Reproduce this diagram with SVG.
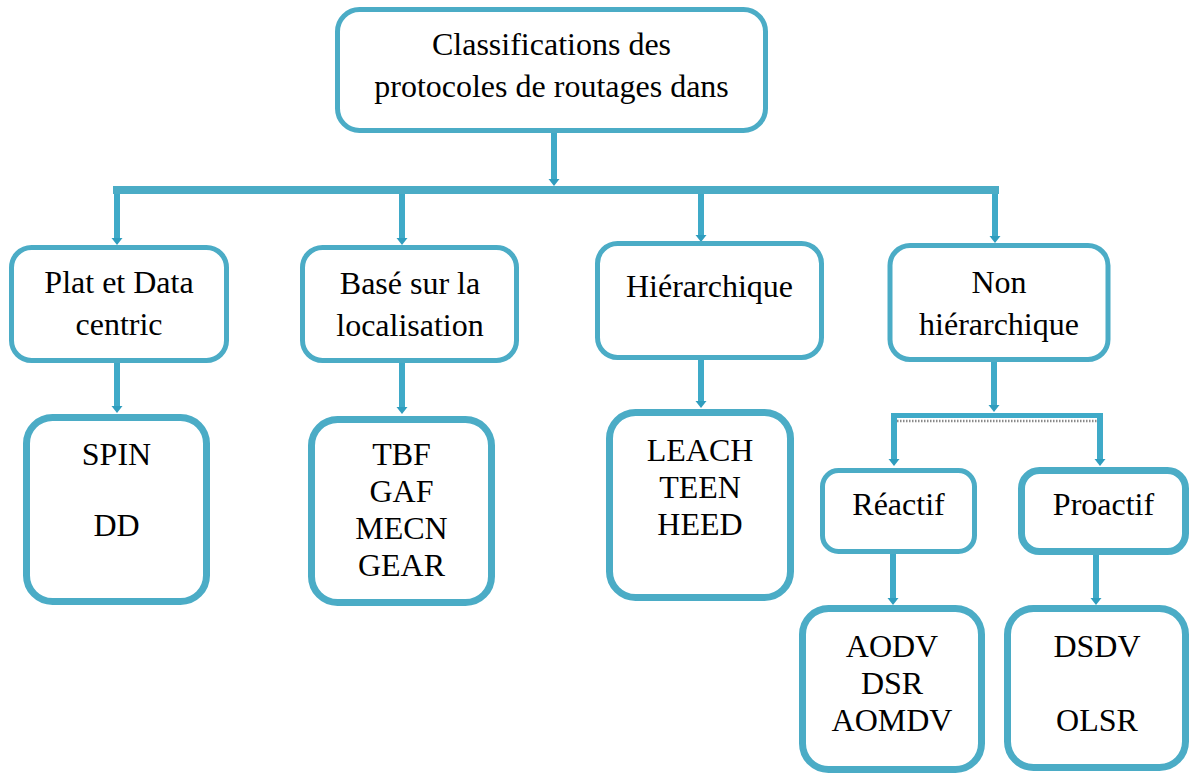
<svg xmlns="http://www.w3.org/2000/svg" width="1191" height="775" viewBox="0 0 1191 775">
<defs>
<marker id="ah" viewBox="0 -6 8 12" refX="2" refY="0" markerWidth="8" markerHeight="12" markerUnits="userSpaceOnUse" orient="auto">
<path d="M0,-5.5 L7,0 L0,5.5 z" fill="#2F9DBE"/>
</marker>
</defs>
<g id="connectors" fill="none">
<g stroke="#3FAAC8" stroke-width="6">
<line x1="554" y1="133" x2="554" y2="181" marker-end="url(#ah)"/>
<line x1="117" y1="186" x2="117" y2="240" marker-end="url(#ah)"/>
<line x1="402" y1="190" x2="402" y2="240" marker-end="url(#ah)"/>
<line x1="701" y1="190" x2="701" y2="237" marker-end="url(#ah)"/>
<line x1="995" y1="186" x2="995" y2="238" marker-end="url(#ah)"/>
<line x1="117" y1="363" x2="117" y2="408" marker-end="url(#ah)"/>
<line x1="402" y1="363" x2="402" y2="409" marker-end="url(#ah)"/>
<line x1="701" y1="359" x2="701" y2="403" marker-end="url(#ah)"/>
<line x1="994" y1="360" x2="994" y2="407" marker-end="url(#ah)"/>
<line x1="894" y1="413" x2="894" y2="461" marker-end="url(#ah)"/>
<line x1="1100" y1="413" x2="1100" y2="461" marker-end="url(#ah)"/>
<line x1="893" y1="553" x2="893" y2="600" marker-end="url(#ah)"/>
<line x1="1096" y1="554" x2="1096" y2="600" marker-end="url(#ah)"/>
</g>
<line x1="113" y1="190" x2="999" y2="190" stroke="#4BACC6" stroke-width="8"/>
<line x1="891" y1="415.5" x2="1103" y2="415.5" stroke="#3FAAC8" stroke-width="5"/>
<line x1="897" y1="421" x2="1097" y2="421" stroke="#8a8a8a" stroke-width="2.5" stroke-dasharray="1.5,1.5"/>
</g>
<g font-family="Liberation Serif" font-size="32" fill="#000000" text-anchor="middle">
<g stroke="#4BACC6" stroke-width="5">
<g id="root">
<rect fill="#ffffff" x="337.5" y="9.5" width="428" height="121" rx="22"/>
<text stroke="none" x="551.5" y="55">Classifications des</text>
<text stroke="none" x="551.5" y="97">protocoles de routages dans</text>
</g>
<g id="plat">
<rect fill="#ffffff" x="11.5" y="247.5" width="215" height="113" rx="20"/>
<text stroke="none" x="119" y="293">Plat et Data</text>
<text stroke="none" x="119" y="335">centric</text>
</g>
<g id="localisation">
<rect fill="#ffffff" x="302.5" y="247.5" width="214" height="113" rx="20"/>
<text stroke="none" x="410" y="294">Basé sur la</text>
<text stroke="none" x="410" y="336">localisation</text>
</g>
<g id="hierarchique">
<rect fill="#ffffff" x="597.5" y="243.5" width="224" height="114" rx="20"/>
<text stroke="none" x="709.5" y="297">Hiérarchique</text>
</g>
<g id="nonhierarchique">
<rect fill="#ffffff" x="890" y="245.5" width="218" height="114" rx="20"/>
<text stroke="none" x="999" y="293">Non</text>
<text stroke="none" x="999" y="335">hiérarchique</text>
</g>
<g id="reactif">
<rect fill="#ffffff" x="822.5" y="470.5" width="152" height="81" rx="16"/>
<text stroke="none" x="898.5" y="515">Réactif</text>
</g>
</g>
<g stroke="#4BACC6" stroke-width="7">
<g id="spin">
<rect fill="#ffffff" x="26.5" y="417.5" width="180" height="184" rx="26"/>
<text stroke="none" x="116.5" y="465">SPIN</text>
<text stroke="none" x="116.5" y="536">DD</text>
</g>
<g id="tbf">
<rect fill="#ffffff" x="311.5" y="419.5" width="180" height="183" rx="26"/>
<text stroke="none" x="401.5" y="465">TBF</text>
<text stroke="none" x="401.5" y="502">GAF</text>
<text stroke="none" x="401.5" y="539">MECN</text>
<text stroke="none" x="401.5" y="576">GEAR</text>
</g>
<g id="leach">
<rect fill="#ffffff" x="609.5" y="412.5" width="181" height="185" rx="26"/>
<text stroke="none" x="700" y="461">LEACH</text>
<text stroke="none" x="700" y="498">TEEN</text>
<text stroke="none" x="700" y="535">HEED</text>
</g>
<g id="proactif">
<rect fill="#ffffff" x="1021.5" y="470.5" width="164" height="81" rx="18"/>
<text stroke="none" x="1103.5" y="515">Proactif</text>
</g>
<g id="aodv">
<rect fill="#ffffff" x="802.5" y="608.5" width="179" height="161" rx="26"/>
<text stroke="none" x="892" y="657">AODV</text>
<text stroke="none" x="892" y="694">DSR</text>
<text stroke="none" x="892" y="731">AOMDV</text>
</g>
<g id="dsdv">
<rect fill="#ffffff" x="1007.5" y="608.5" width="178" height="159" rx="26"/>
<text stroke="none" x="1097" y="657">DSDV</text>
<text stroke="none" x="1097" y="731">OLSR</text>
</g>
</g>
</g>
</svg>
